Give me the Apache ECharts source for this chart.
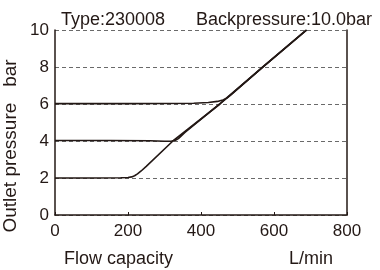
<!DOCTYPE html>
<html>
<head>
<meta charset="utf-8">
<script src="https://cdn.jsdelivr.net/npm/echarts@6/dist/echarts.min.js"></script>
<style>
    html, body { margin: 0; padding: 0; background: #fff; }
    #chart { width: 380px; height: 270px; }
</style>
</head>
<body>
<div id="chart"></div>
<script>
// flow capacity (L/min) vs outlet pressure (bar), one curve per set pressure
const curve2bar = [[0, 2.0], [100, 2.0], [180, 2.01], [200, 2.03], [210, 2.06], [218, 2.12], [226, 2.22], [236, 2.38], [250, 2.63], [323, 4.0], [452, 6.0], [570, 8.0], [690, 10.0]];
const curve4bar = [[0, 4.03], [150, 4.03], [260, 4.01], [300, 3.99], [318, 3.99], [330, 4.04], [338, 4.13], [346, 4.28], [356, 4.46], [452, 6.02], [570, 8.02], [688, 10.0]];
const curve6bar = [[0, 6.02], [200, 6.02], [380, 6.04], [420, 6.08], [445, 6.14], [460, 6.22], [472, 6.33], [482, 6.49], [570, 8.01], [689, 10.0]];

const xTicks = [0, 200, 400, 600, 800];
const yTicks = [0, 2, 4, 6, 8, 10];

const titleType = 'Type:230008';
const titleBack = 'Backpressure:10.0bar';
const xName = 'Flow capacity';
const xUnit = 'L/min';
const yName = 'Outlet pressure   bar';

const font = 'Liberation Sans, Arial, sans-serif';
const ink = '#231815';

function lineSeries(data) {
    return {
        type: 'line',
        data: data,
        smooth: false,
        symbol: 'none',
        lineStyle: { color: ink, width: 1.6, join: 'round' }
    };
}

const myChart = echarts.init(document.getElementById('chart'));

myChart.setOption({
    animation: false,
    grid: { left: 55, right: 33, top: 30, bottom: 55 },
    title: [
        { text: titleType, left: 56, top: 6, textStyle: { fontFamily: font, fontSize: 18, fontWeight: 'normal', color: ink } },
        { text: titleBack, left: 191, top: 6, textStyle: { fontFamily: font, fontSize: 18, fontWeight: 'normal', color: ink } },
        { text: xName, left: 59, top: 245, textStyle: { fontFamily: font, fontSize: 18, fontWeight: 'normal', color: ink } },
        { text: xUnit, left: 284, top: 245, textStyle: { fontFamily: font, fontSize: 18, fontWeight: 'normal', color: ink } }
    ],
    graphic: [{
        type: 'text',
        x: 11,
        y: 146,
        rotation: Math.PI / 2,
        style: {
            text: yName,
            fontFamily: font,
            fontSize: 19,
            fill: ink,
            align: 'center',
            verticalAlign: 'middle'
        }
    }],
    xAxis: {
        type: 'value',
        min: xTicks[0],
        max: xTicks[xTicks.length - 1],
        interval: 200,
        axisLine: { lineStyle: { color: ink, width: 1.5 } },
        axisTick: { inside: true, length: 3, lineStyle: { color: ink } },
        axisLabel: { fontFamily: font, fontSize: 17, color: ink, margin: 8 },
        splitLine: { show: false }
    },
    yAxis: [{
        type: 'value',
        min: yTicks[0],
        max: yTicks[yTicks.length - 1],
        interval: 2,
        axisLine: { show: true, lineStyle: { color: ink, width: 1.5 } },
        axisTick: { show: false },
        axisLabel: { fontFamily: font, fontSize: 17, color: ink, margin: 6 },
        splitLine: { show: true, lineStyle: { color: '#6a6a6a', type: [4, 3], width: 1 } }
    }, {
        type: 'value',
        position: 'right',
        min: yTicks[0],
        max: yTicks[yTicks.length - 1],
        interval: 2,
        axisLine: { show: true, lineStyle: { color: ink, width: 1.5 } },
        axisTick: { show: false },
        axisLabel: { show: false },
        splitLine: { show: false }
    }],
    series: [lineSeries(curve2bar), lineSeries(curve4bar), lineSeries(curve6bar)]
});
</script>
</body>
</html>
